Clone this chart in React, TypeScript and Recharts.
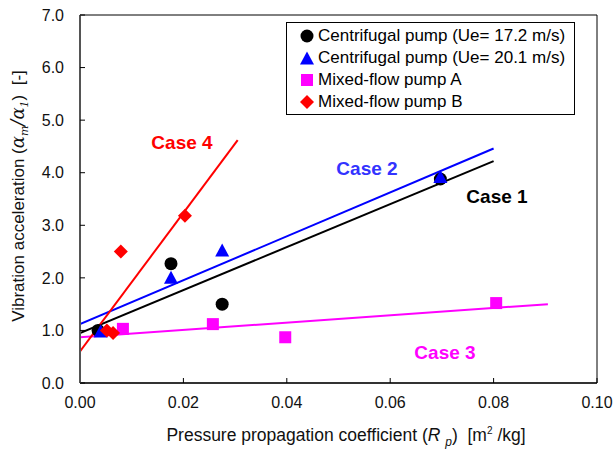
import { ComposedChart, Line, Scatter, XAxis, YAxis } from "recharts";

// measured points
const ue172X = [0.0035, 0.0176, 0.0275, 0.0697];
const ue172Y = [1.0, 2.27, 1.5, 3.88];
const ue201X = [0.004, 0.0176, 0.0275, 0.0697];
const ue201Y = [0.98, 2.0, 2.52, 3.92];
const mixAX = [0.0083, 0.0257, 0.0397, 0.0805];
const mixAY = [1.03, 1.12, 0.87, 1.52];
const mixBX = [0.0052, 0.0064, 0.0079, 0.0203];
const mixBY = [1.0, 0.95, 2.5, 3.18];

// fitted lines (end points)
const case1X = [0, 0.08];
const case1Y = [0.95, 4.22];
const case2X = [0, 0.08];
const case2Y = [1.12, 4.46];
const case3X = [0, 0.0905];
const case3Y = [0.87, 1.5];
const case4X = [0, 0.0305];
const case4Y = [0.6, 4.62];

const xTicks = [0, 0.02, 0.04, 0.06, 0.08, 0.1];
const yTicks = [0, 1, 2, 3, 4, 5, 6, 7];

const zip = (xs: number[], ys: number[]) => xs.map((x, i) => ({ x, y: ys[i] }));

const FONT = "Arial, 'Liberation Sans', sans-serif";

const Circle = (p: any) => <circle cx={p.cx} cy={p.cy} r={6.5} fill="#000" />;
const Triangle = (p: any) => (
  <polygon points={`${p.cx},${p.cy - 7} ${p.cx - 7},${p.cy + 6} ${p.cx + 7},${p.cy + 6}`} fill="#0000ff" />
);
const Square = (p: any) => <rect x={p.cx - 6} y={p.cy - 6} width={12} height={12} fill="#ff00ff" />;
const Diamond = (p: any) => (
  <polygon points={`${p.cx},${p.cy - 7} ${p.cx + 7},${p.cy} ${p.cx},${p.cy + 7} ${p.cx - 7},${p.cy}`} fill="#ff0000" />
);

const legendItems = [
  { label: "Centrifugal pump (Ue= 17.2 m/s)", mark: "circle" },
  { label: "Centrifugal pump (Ue= 20.1 m/s)", mark: "triangle" },
  { label: "Mixed-flow pump A", mark: "square" },
  { label: "Mixed-flow pump B", mark: "diamond" },
];

function LegendMark({ kind }: { kind: string }) {
  return (
    <svg width={14} height={14} style={{ marginRight: 4, flexShrink: 0 }}>
      {kind === "circle" && <Circle cx={7} cy={7} />}
      {kind === "triangle" && <Triangle cx={7} cy={7.5} />}
      {kind === "square" && <Square cx={7} cy={7} />}
      {kind === "diamond" && <Diamond cx={7} cy={7} />}
    </svg>
  );
}

const caseLabel = (text: string, color: string, cx: number, cy: number) => (
  <div
    style={{
      position: "absolute",
      left: cx,
      top: cy,
      transform: "translate(-50%, -50%)",
      color,
      fontWeight: "bold",
      fontSize: 19,
      whiteSpace: "nowrap",
    }}
  >
    {text}
  </div>
);

export default function App() {
  return (
    <div style={{ position: "absolute", left: 0, top: 0, width: 613, height: 457, fontFamily: FONT, background: "#fff" }}>
      <ComposedChart width={613} height={457} margin={{ top: 14, right: 15, bottom: 0, left: 0 }}>
        <XAxis
          dataKey="x"
          type="number"
          domain={[0, 0.1]}
          ticks={xTicks}
          allowDataOverflow
          height={74}
          tickSize={-5}
          tickMargin={19}
          tickFormatter={(v: number) => v.toFixed(2)}
          tick={{ fill: "#111", fontSize: 16, fontFamily: FONT }}
          stroke="#000"
          axisLine={{ stroke: "#333", strokeWidth: 2 }}
        />
        <XAxis
          xAxisId="top"
          orientation="top"
          dataKey="x"
          type="number"
          domain={[0, 0.1]}
          ticks={xTicks}
          allowDataOverflow
          height={1}
          tickSize={-5}
          tick={false}
          stroke="#000"
        />
        <YAxis
          type="number"
          domain={[0, 7]}
          ticks={yTicks}
          allowDataOverflow
          width={80}
          tickSize={-5}
          tickMargin={21}
          tickFormatter={(v: number) => v.toFixed(1)}
          tick={{ fill: "#111", fontSize: 16, fontFamily: FONT }}
          stroke="#000"
          axisLine={{ stroke: "#555", strokeWidth: 2 }}
        />
        <YAxis
          yAxisId="right"
          orientation="right"
          type="number"
          domain={[0, 7]}
          ticks={yTicks}
          allowDataOverflow
          width={1}
          tickSize={-5}
          tick={false}
          stroke="#000"
        />
        <Line data={zip(case1X, case1Y)} dataKey="y" stroke="#000" strokeWidth={2} dot={false} isAnimationActive={false} />
        <Line data={zip(case2X, case2Y)} dataKey="y" stroke="#0000ff" strokeWidth={2} dot={false} isAnimationActive={false} />
        <Line data={zip(case3X, case3Y)} dataKey="y" stroke="#ff00ff" strokeWidth={2} dot={false} isAnimationActive={false} />
        <Line data={zip(case4X, case4Y)} dataKey="y" stroke="#ff0000" strokeWidth={2} dot={false} isAnimationActive={false} />
        <Scatter data={zip(ue172X, ue172Y)} dataKey="y" shape={Circle} isAnimationActive={false} />
        <Scatter data={zip(ue201X, ue201Y)} dataKey="y" shape={Triangle} isAnimationActive={false} />
        <Scatter data={zip(mixAX, mixAY)} dataKey="y" shape={Square} isAnimationActive={false} />
        <Scatter data={zip(mixBX, mixBY)} dataKey="y" shape={Diamond} isAnimationActive={false} />
      </ComposedChart>

      {/* legend box */}
      <div
        style={{
          position: "absolute",
          left: 286,
          top: 22,
          width: 289,
          height: 93,
          border: "1px solid #000",
          background: "#fff",
          boxSizing: "border-box",
          padding: "2px 0 0 13px",
          fontSize: 17,
          lineHeight: "22px",
        }}
      >
        {legendItems.map((it) => (
          <div key={it.label} style={{ display: "flex", alignItems: "center", whiteSpace: "nowrap" }}>
            <LegendMark kind={it.mark} />
            <span>{it.label}</span>
          </div>
        ))}
      </div>

      {caseLabel("Case 4", "#ff0000", 182, 143)}
      {caseLabel("Case 2", "#3333ff", 367, 169)}
      {caseLabel("Case 1", "#000", 497, 197)}
      {caseLabel("Case 3", "#ff00ff", 445, 353)}

      {/* y axis title */}
      <div
        style={{
          position: "absolute",
          left: 19,
          top: 196,
          transform: "translate(-50%, -50%) rotate(-90deg)",
          whiteSpace: "nowrap",
          fontSize: 17,
          color: "#111",
        }}
      >
        Vibration acceleration (
        <span style={{ fontStyle: "italic", fontFamily: "'DejaVu Serif', serif", fontSize: 18 }}>
          α<sub style={{ fontSize: 11 }}>m</sub>/α<sub style={{ fontSize: 11 }}>1</sub>
        </span>
        ) &nbsp;[-]
      </div>

      {/* x axis title */}
      <div
        style={{
          position: "absolute",
          left: 346,
          top: 437,
          transform: "translate(-50%, -50%)",
          whiteSpace: "nowrap",
          fontSize: 17.5,
          color: "#111",
        }}
      >
        Pressure propagation coefficient (<span style={{ fontStyle: "italic" }}>R</span>{" "}
        <sub style={{ fontSize: 12, fontStyle: "italic" }}>p</sub>) &nbsp;[m<sup style={{ fontSize: 10 }}>2</sup> /kg]
      </div>
    </div>
  );
}
